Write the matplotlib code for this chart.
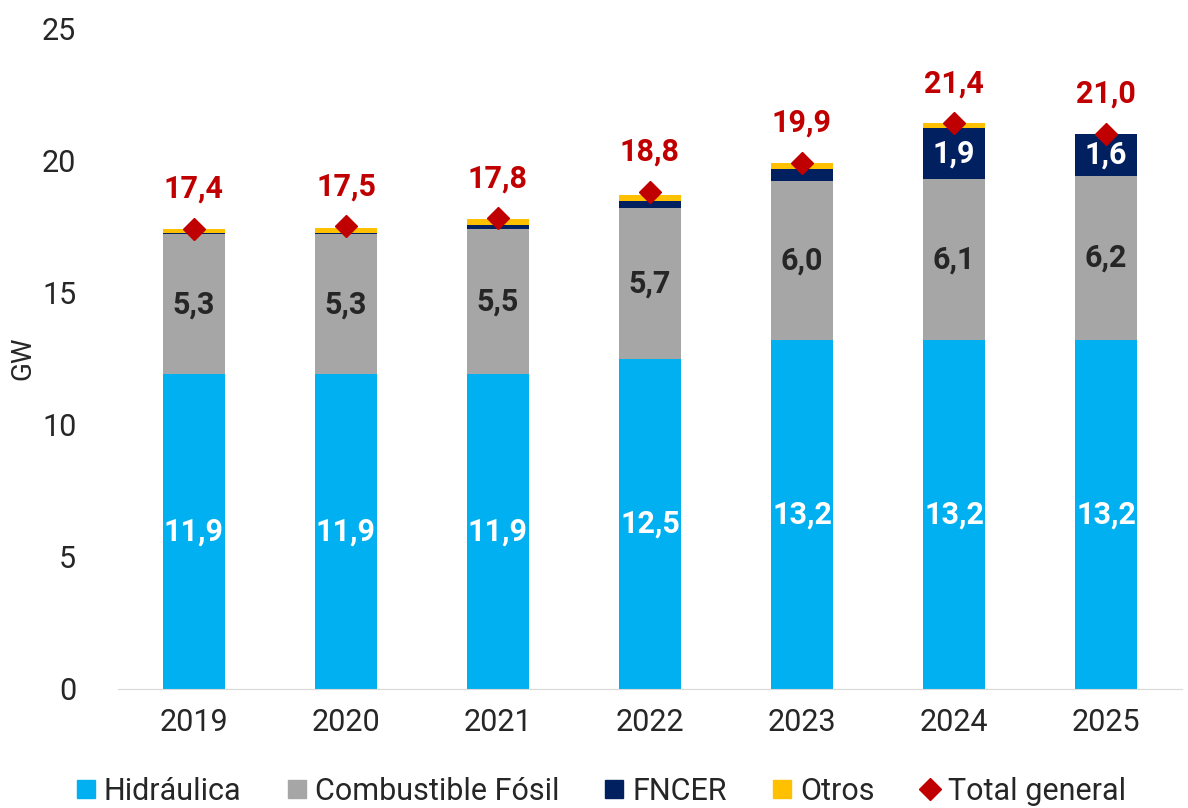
import matplotlib.pyplot as plt
import numpy as np
from matplotlib.lines import Line2D

plt.rcParams['font.family'] = ['Roboto', 'DejaVu Sans']

years = ['2019', '2020', '2021', '2022', '2023', '2024', '2025']
hidraulica = [11.9, 11.9, 11.9, 12.5, 13.2, 13.2, 13.2]
fosil = [5.3, 5.3, 5.5, 5.7, 6.0, 6.1, 6.2]
fncer = [0.03, 0.03, 0.14, 0.25, 0.48, 1.9, 1.6]
otros = [0.15, 0.2, 0.22, 0.22, 0.2, 0.2, 0.0]
total = [17.4, 17.5, 17.8, 18.8, 19.9, 21.4, 21.0]

c_hid = '#00B0F0'
c_fos = '#A6A6A6'
c_fnc = '#002060'
c_otr = '#FFC000'
c_tot = '#C00000'

fig = plt.figure(figsize=(11.88, 8.08), dpi=100)
ax = fig.add_axes([118 / 1188, 1 - 689 / 808, (1182 - 118) / 1188, (689 - 28) / 808])

x = np.arange(len(years))
w = 0.41
hid = np.array(hidraulica)
fos = np.array(fosil)
fnc = np.array(fncer)
otr = np.array(otros)

ax.bar(x, hid, w, color=c_hid)
ax.bar(x, fos, w, bottom=hid, color=c_fos)
ax.bar(x, fnc, w, bottom=hid + fos, color=c_fnc)
ax.bar(x, otr, w, bottom=hid + fos + fnc, color=c_otr)
ax.plot(x, total, linestyle='none', marker='D', markersize=11, color=c_tot)

def fmt(v):
    return f"{v:.1f}".replace('.', ',')

for i in range(len(years)):
    ax.text(x[i], hid[i] / 2, fmt(hid[i]), ha='center', va='center',
            color='white', fontsize=22, fontweight='bold')
    ax.text(x[i], hid[i] + fos[i] / 2, fmt(fos[i]), ha='center', va='center',
            color='#262626', fontsize=22, fontweight='bold')
    if fnc[i] > 1:
        ax.text(x[i], hid[i] + fos[i] + fnc[i] / 2, fmt(fnc[i]), ha='center', va='center',
                color='white', fontsize=22, fontweight='bold')
    ax.text(x[i], total[i] + 0.95, fmt(total[i]), ha='center', va='bottom',
            color=c_tot, fontsize=22, fontweight='bold')

ax.set_xlim(-0.5, len(years) - 0.5)
ax.set_ylim(0, 25)
ax.set_yticks([0, 5, 10, 15, 20, 25])
ax.set_xticks(x)
ax.set_xticklabels(years)
ax.tick_params(axis='both', length=0, labelsize=22, colors='#262626')
ax.tick_params(axis='x', pad=14)
ax.tick_params(axis='y', pad=30)
for s in ['top', 'right', 'left']:
    ax.spines[s].set_visible(False)
ax.spines['bottom'].set_color('#D9D9D9')
ax.set_ylabel('GW', fontsize=20, color='#262626', labelpad=4)

handles = [
    Line2D([], [], marker='s', linestyle='none', color=c_hid, markersize=13),
    Line2D([], [], marker='s', linestyle='none', color=c_fos, markersize=13),
    Line2D([], [], marker='s', linestyle='none', color=c_fnc, markersize=13),
    Line2D([], [], marker='s', linestyle='none', color=c_otr, markersize=13),
    Line2D([], [], marker='D', linestyle='none', color=c_tot, markersize=11),
]
labels = ['Hidráulica', 'Combustible Fósil', 'FNCER', 'Otros', 'Total general']
fig.legend(handles, labels, loc='center', bbox_to_anchor=(0.505, 1 - 791 / 808), ncol=5,
           frameon=False, fontsize=22, handlelength=0.8, handletextpad=0.2,
           columnspacing=1.4, labelcolor='#262626')

fig.savefig('out.png', dpi=100)
